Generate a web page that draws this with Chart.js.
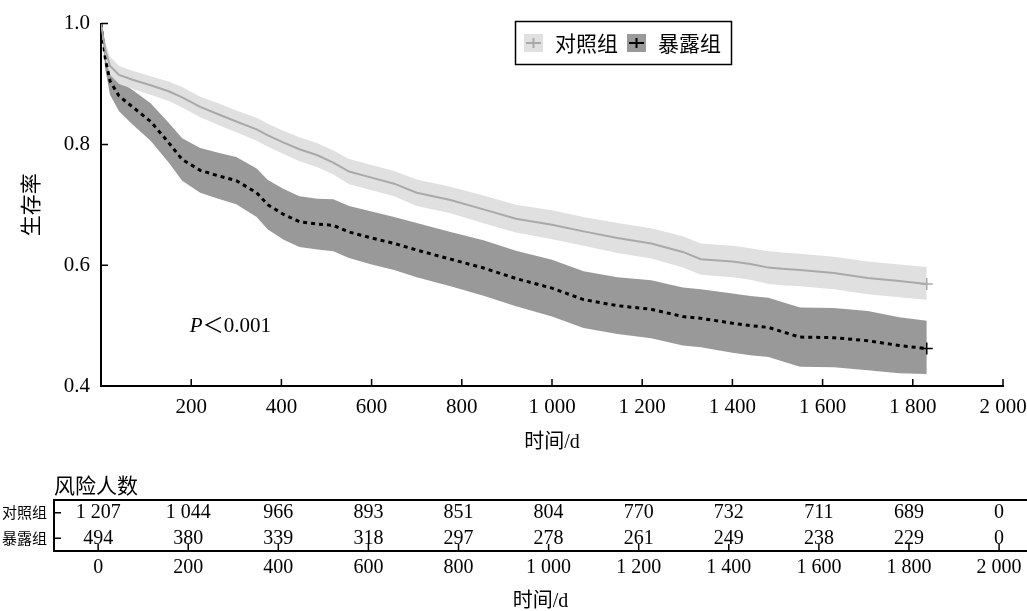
<!DOCTYPE html>
<html>
<head>
<meta charset="utf-8">
<script src="https://cdn.jsdelivr.net/npm/chart.js@4.4.1/dist/chart.umd.min.js"></script>
<style>
  html, body { margin: 0; padding: 0; background: #fff; }
  #wrap { position: relative; width: 1027px; height: 611px; }
  #kmBox { position: absolute; left: 0; top: 0; width: 1027px; height: 460px; }
  #riskBox { position: absolute; left: 0; top: 460px; width: 1027px; height: 151px; }
</style>
</head>
<body>
<div id="wrap">
  <div id="kmBox"><canvas id="kmChart"></canvas></div>
  <div id="riskBox"><canvas id="riskChart"></canvas></div>
</div>
<script>
// groups and survival curves
const groups = ["对照组", "暴露组"];

const times = [0, 10, 20, 40, 70, 110, 150, 180, 220, 260, 300, 345, 370, 405, 440, 480, 515, 550, 600, 650,
  700, 775, 850, 920, 1000, 1070, 1145, 1220, 1290, 1330, 1400, 1440, 1480, 1510, 1550, 1625, 1700, 1770, 1831];

const ctrlSurv = [1.000, 0.955, 0.930, 0.915, 0.907, 0.898, 0.888, 0.878, 0.862, 0.850, 0.838, 0.825, 0.815, 0.803,
  0.792, 0.782, 0.770, 0.755, 0.745, 0.735, 0.720, 0.708, 0.692, 0.677, 0.667, 0.656, 0.645, 0.636, 0.622, 0.610,
  0.606, 0.602, 0.596, 0.594, 0.592, 0.587, 0.579, 0.574, 0.569];
const ctrlUpper = [1.000, 0.968, 0.945, 0.930, 0.922, 0.913, 0.904, 0.895, 0.879, 0.868, 0.856, 0.844, 0.834, 0.822,
  0.812, 0.802, 0.790, 0.776, 0.766, 0.756, 0.742, 0.730, 0.715, 0.700, 0.691, 0.680, 0.670, 0.661, 0.648, 0.636,
  0.632, 0.628, 0.623, 0.621, 0.619, 0.614, 0.606, 0.601, 0.597];
const ctrlLower = [1.000, 0.942, 0.915, 0.900, 0.892, 0.882, 0.872, 0.861, 0.845, 0.832, 0.820, 0.806, 0.796, 0.784,
  0.772, 0.762, 0.750, 0.734, 0.724, 0.714, 0.698, 0.686, 0.669, 0.654, 0.643, 0.632, 0.620, 0.611, 0.596, 0.584,
  0.580, 0.576, 0.569, 0.567, 0.565, 0.560, 0.552, 0.547, 0.543];

const expoSurv = [1.000, 0.940, 0.905, 0.880, 0.862, 0.838, 0.803, 0.775, 0.757, 0.748, 0.740, 0.720, 0.700, 0.684,
  0.672, 0.668, 0.666, 0.655, 0.645, 0.636, 0.625, 0.610, 0.595, 0.578, 0.562, 0.543, 0.533, 0.527, 0.515, 0.512,
  0.504, 0.500, 0.497, 0.490, 0.481, 0.480, 0.475, 0.467, 0.462];
const expoUpper = [1.000, 0.958, 0.928, 0.905, 0.890, 0.868, 0.836, 0.810, 0.794, 0.786, 0.779, 0.760, 0.741, 0.726,
  0.714, 0.710, 0.709, 0.698, 0.689, 0.680, 0.670, 0.655, 0.641, 0.624, 0.609, 0.590, 0.580, 0.575, 0.563, 0.560,
  0.553, 0.549, 0.546, 0.539, 0.530, 0.529, 0.524, 0.514, 0.508];
const expoLower = [1.000, 0.922, 0.882, 0.855, 0.833, 0.806, 0.770, 0.740, 0.720, 0.710, 0.701, 0.680, 0.659, 0.642,
  0.630, 0.626, 0.623, 0.612, 0.601, 0.592, 0.580, 0.565, 0.549, 0.532, 0.515, 0.496, 0.486, 0.479, 0.467, 0.464,
  0.455, 0.451, 0.448, 0.441, 0.432, 0.431, 0.426, 0.421, 0.420];

// axes
const xTicks = [200, 400, 600, 800, 1000, 1200, 1400, 1600, 1800, 2000];
const xTickLabels = ["200", "400", "600", "800", "1 000", "1 200", "1 400", "1 600", "1 800", "2 000"];
const yTicks = [0.4, 0.6, 0.8, 1.0];
const yTickLabels = ["0.4", "0.6", "0.8", "1.0"];

// numbers at risk
const riskTimes = [0, 200, 400, 600, 800, 1000, 1200, 1400, 1600, 1800, 2000];
const riskTimeLabels = ["0", "200", "400", "600", "800", "1 000", "1 200", "1 400", "1 600", "1 800", "2 000"];
const ctrlRisk = [1207, 1044, 966, 893, 851, 804, 770, 732, 711, 689, 0];
const expoRisk = [494, 380, 339, 318, 297, 278, 261, 249, 238, 229, 0];

const serif = '"Liberation Serif", "Noto Sans CJK SC", serif';
const cjk = '"Noto Sans CJK SC", sans-serif';

const toXY = (ys) => times.map((t, i) => ({ x: t, y: ys[i] }));
const fmt = (n) => n >= 1000 ? String(n).replace(/(\d)(\d{3})$/, "$1 $2") : String(n);
const lastPt = (r) => (ctx) => ctx.dataIndex === times.length - 1 ? r : 0;
const noSidePad = (s) => { s.paddingLeft = 0; s.paddingRight = 0; };

// ticks pointing into the plot
const inTicks = {
  id: "inTicks",
  afterDraw(chart) {
    const ctx = chart.ctx;
    const { x, y } = chart.scales;
    const area = chart.chartArea;
    ctx.save();
    ctx.strokeStyle = "#000";
    ctx.lineWidth = 1.5;
    ctx.beginPath();
    x.ticks.forEach((t, i) => {
      const px = x.getPixelForTick(i);
      ctx.moveTo(px, area.bottom);
      ctx.lineTo(px, area.bottom - 7);
    });
    y.ticks.forEach((t, i) => {
      const py = y.getPixelForTick(i);
      ctx.moveTo(area.left, py);
      ctx.lineTo(area.left + 7, py);
    });
    ctx.stroke();
    ctx.restore();
  }
};

const kmExtras = {
  id: "kmExtras",
  afterDraw(chart) {
    const ctx = chart.ctx;
    const { x, y } = chart.scales;
    ctx.save();
    // P value
    ctx.fillStyle = "#000";
    ctx.textBaseline = "middle";
    ctx.textAlign = "left";
    const px = x.getPixelForValue(197), py = y.getPixelForValue(0.498);
    ctx.font = "italic 21px " + serif;
    ctx.fillText("P", px, py);
    const pw = ctx.measureText("P").width;
    ctx.font = "21px " + serif;
    ctx.fillText("＜0.001", px + pw, py);

    // legend
    ctx.strokeStyle = "#000";
    ctx.lineWidth = 1.5;
    ctx.strokeRect(515.5, 21.5, 216, 43);
    const items = [
      { label: groups[0], x: 524, band: "#e0e0e0", line: "#a9a9a9" },
      { label: groups[1], x: 627, band: "#999999", line: "#000000" }
    ];
    items.forEach((it) => {
      ctx.fillStyle = it.band;
      ctx.fillRect(it.x, 34, 19, 18);
      ctx.strokeStyle = it.line;
      ctx.lineWidth = 2;
      ctx.beginPath();
      ctx.moveTo(it.x + 2, 43);
      ctx.lineTo(it.x + 17, 43);
      ctx.moveTo(it.x + 9.5, 38);
      ctx.lineTo(it.x + 9.5, 48);
      ctx.stroke();
      ctx.fillStyle = "#000";
      ctx.font = "21px " + cjk;
      ctx.fillText(it.label, it.x + 31, 43);
    });
    ctx.restore();
  }
};

new Chart(document.getElementById("kmChart"), {
  type: "line",
  data: {
    datasets: [
      { label: groups[0], data: toXY(ctrlSurv), borderColor: "#a9a9a9", borderWidth: 2, fill: false,
        pointStyle: "cross", pointRadius: lastPt(6), pointBorderColor: "#a9a9a9", pointBorderWidth: 1.5 },
      { label: groups[1], data: toXY(expoSurv), borderColor: "#000", borderWidth: 3, borderDash: [4, 4], fill: false,
        pointStyle: "cross", pointRadius: lastPt(6), pointBorderColor: "#000", pointBorderWidth: 1.5 },
      { label: "ctrlUpper", data: toXY(ctrlUpper), borderWidth: 0, pointRadius: 0,
        backgroundColor: "#e0e0e0", fill: "+1" },
      { label: "ctrlLower", data: toXY(ctrlLower), borderWidth: 0, pointRadius: 0, fill: false },
      { label: "expoUpper", data: toXY(expoUpper), borderWidth: 0, pointRadius: 0,
        backgroundColor: "#999999", fill: "+1" },
      { label: "expoLower", data: toXY(expoLower), borderWidth: 0, pointRadius: 0, fill: false }
    ]
  },
  options: {
    responsive: true,
    maintainAspectRatio: false,
    animation: false,
    layout: { padding: { left: 0, right: 24, top: 20, bottom: 0 } },
    plugins: { legend: { display: false }, tooltip: { enabled: false } },
    elements: { line: { tension: 0 } },
    scales: {
      x: {
        type: "linear",
        min: 0,
        max: 2000,
        afterBuildTicks: (s) => { s.ticks = xTicks.map((v) => ({ value: v })); },
        afterFit: (s) => { s.height = 74; noSidePad(s); },
        grid: { display: false, drawTicks: false },
        border: { color: "#000", width: 2 },
        ticks: {
          autoSkip: false, maxRotation: 0, padding: 9, color: "#000",
          font: { family: serif, size: 21 },
          callback: (v, i) => xTickLabels[i]
        },
        title: { display: true, text: "时间/d", color: "#000", font: { family: serif, size: 20 },
          padding: { top: 0, bottom: 5 } }
      },
      y: {
        min: 0.4,
        max: 1.0,
        afterBuildTicks: (s) => { s.ticks = yTicks.map((v) => ({ value: v })); },
        afterFit: (s) => { s.width = 101; },
        grid: { display: false, drawTicks: false },
        border: { color: "#000", width: 2 },
        ticks: {
          padding: 11, color: "#000",
          font: { family: serif, size: 21 },
          callback: (v, i) => yTickLabels[i]
        },
        title: { display: true, text: "生存率", color: "#000", font: { family: cjk, size: 21 },
          padding: { top: 17, bottom: 0 } }
      }
    }
  },
  plugins: [inTicks, kmExtras]
});

// numbers-at-risk table
const riskExtras = {
  id: "riskExtras",
  afterDraw(chart) {
    const ctx = chart.ctx;
    const { x, y } = chart.scales;
    const area = chart.chartArea;
    ctx.save();
    ctx.strokeStyle = "#000";
    ctx.lineWidth = 2;
    ctx.beginPath();
    ctx.moveTo(area.left - 1, area.top);
    ctx.lineTo(area.right, area.top);
    ctx.stroke();

    ctx.fillStyle = "#000";
    ctx.textBaseline = "middle";
    ctx.textAlign = "left";
    ctx.font = "21px " + cjk;
    ctx.fillText("风险人数", area.left, 25);

    ctx.textAlign = "center";
    ctx.font = "20px " + serif;
    [ctrlRisk, expoRisk].forEach((row, r) => {
      const py = y.getPixelForTick(r);
      row.forEach((n, i) => ctx.fillText(fmt(n), x.getPixelForValue(riskTimes[i]), py));
    });
    ctx.restore();
  }
};

new Chart(document.getElementById("riskChart"), {
  type: "scatter",
  data: { datasets: [{ data: [] }] },
  options: {
    responsive: true,
    maintainAspectRatio: false,
    animation: false,
    layout: { padding: { left: 0, right: 0, top: 40, bottom: 0 } },
    plugins: { legend: { display: false }, tooltip: { enabled: false } },
    scales: {
      x: {
        type: "linear",
        min: -98,
        max: 2062,
        afterBuildTicks: (s) => { s.ticks = riskTimes.map((v) => ({ value: v })); },
        afterFit: (s) => { s.height = 60; noSidePad(s); },
        grid: { display: false, drawTicks: false },
        border: { color: "#000", width: 2 },
        ticks: {
          autoSkip: false, maxRotation: 0, padding: 5, color: "#000",
          font: { family: serif, size: 20 },
          callback: (v, i) => riskTimeLabels[i]
        },
        title: { display: true, text: "时间/d", color: "#000", font: { family: serif, size: 20 },
          padding: { top: 0, bottom: -3 } }
      },
      y: {
        type: "category",
        labels: groups,
        offset: true,
        afterFit: (s) => { s.width = 54; },
        grid: { display: false, drawTicks: false, offset: true },
        border: { color: "#000", width: 2 },
        ticks: { padding: 7, color: "#000", font: { family: cjk, size: 15 } }
      }
    }
  },
  plugins: [inTicks, riskExtras]
});
</script>
</body>
</html>
